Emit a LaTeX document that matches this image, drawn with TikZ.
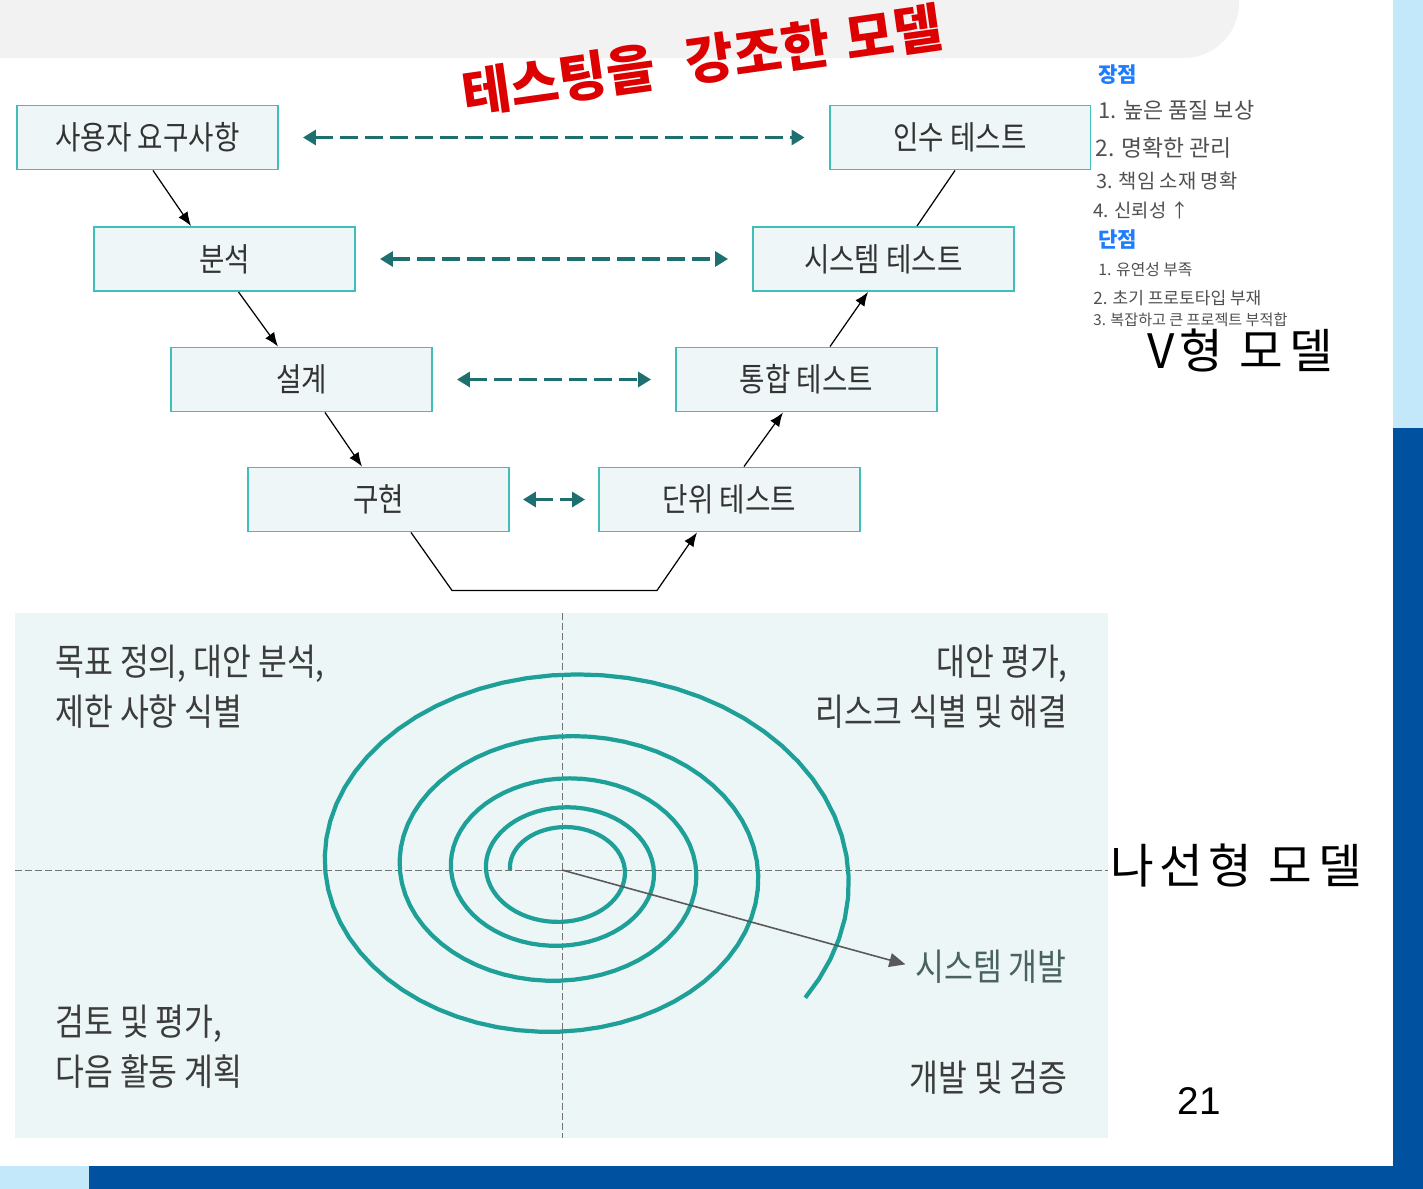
\documentclass[tikz,border=0pt]{standalone}
\usepackage{fontspec}
\setmainfont{Noto Sans CJK KR}
\newfontfamily\krnarrow[FakeStretch=0.85]{Noto Sans CJK KR}
\newfontfamily\krwide[LetterSpace=12]{Noto Sans CJK KR}
\newfontfamily\arialfont{Liberation Sans}
\usetikzlibrary{arrows.meta, positioning}

\definecolor{boxline}{RGB}{64,190,186}
\definecolor{boxfill}{RGB}{238,246,248}
\definecolor{linkteal}{RGB}{30,112,112}
\definecolor{spiralteal}{RGB}{30,160,152}
\definecolor{panelbg}{RGB}{237,246,246}
\definecolor{topgray}{RGB}{242,242,242}
\definecolor{lightblue}{RGB}{194,232,250}
\definecolor{darkblue}{RGB}{0,81,160}
\definecolor{pen}{RGB}{220,0,0}
\definecolor{notegray}{RGB}{80,80,80}
\definecolor{noteblue}{RGB}{30,125,255}
\definecolor{textgray}{RGB}{60,60,60}
\definecolor{devgray}{RGB}{75,98,98}

\begin{document}
\begin{tikzpicture}[
    x=0.02cm, y=-0.02cm,
    % Style definitions
    vbox/.style={rectangle, minimum width=5.22cm, minimum height=1.28cm, inner sep=0pt,
                 draw=boxline, line width=1.1pt, fill=boxfill, text=black!80,
                 font=\krnarrow\fontsize{18.5}{22}\selectfont},
    flow/.style={-{Latex[length=0.28cm, width=0.22cm]}, line width=0.7pt},
    link/.style={{Triangle[length=0.26cm, width=0.3cm]}-{Triangle[length=0.26cm, width=0.3cm]},
                 linkteal, line width=1.8pt, dash pattern=on 0.36cm off 0.14cm,
                 shorten <=0.48cm, shorten >=0.48cm},
    quad/.style={inner sep=0pt, text=textgray, font=\krnarrow\fontsize{21}{28.3}\selectfont},
    axis/.style={black!55, line width=0.5pt, dash pattern=on 0.14cm off 0.06cm},
    note/.style={anchor=west, inner sep=0pt, text=notegray},
    head/.style={anchor=west, inner sep=0pt, text=noteblue, font=\bfseries\fontsize{12}{14}\selectfont},
]
\useasboundingbox (0,0) rectangle (1423,1189);

% Slide background
\fill[white] (0,0) rectangle (1423,1189);
\fill[topgray, rounded corners=1.1cm] (-100,-100) rectangle (1239,58);
\fill[lightblue] (1393,0) rectangle (1423,428);
\fill[darkblue] (1393,428) rectangle (1423,1189);
\fill[lightblue] (0,1166) rectangle (89,1189);
\fill[darkblue] (89,1166) rectangle (1423,1189);

% V-model: development side
\node[vbox] (req) at (147.5,137.5) {사용자 요구사항};
\node[vbox] (anal) at (224.5,259) {분석};
\node[vbox] (des) at (301.5,379.5) {설계};
\node[vbox] (impl) at (378.5,499.5) {구현};

% V-model: test side
\node[vbox] (unit) at (729.5,499.5) {단위 테스트};
\node[vbox] (integ) at (806.5,379.5) {통합 테스트};
\node[vbox] (sys) at (883.5,259) {시스템 테스트};
\node[vbox] (acc) at (960,137.5) {인수 테스트};

% Arrows - down and up the V
\draw[flow] ([xshift=0.11cm]req.south) -- ([xshift=-0.67cm]anal.north);
\draw[flow] ([xshift=0.28cm]anal.south) -- ([xshift=-0.47cm]des.north);
\draw[flow] ([xshift=0.47cm]des.south) -- ([xshift=-0.33cm]impl.north);
\draw[flow] ([xshift=0.65cm]impl.south) -- ++(41,58) -- ++(205,0) -- ([xshift=-0.65cm]unit.south);
\draw[flow] ([xshift=0.29cm]unit.north) -- ([xshift=-0.47cm]integ.south);
\draw[flow] ([xshift=0.47cm]integ.north) -- ([xshift=-0.31cm]sys.south);
\draw[line width=0.7pt] ([xshift=0.67cm]sys.north) -- ([xshift=-0.1cm]acc.south);

% Arrows - verification links
\draw[link] (req) -- (acc);
\draw[link] (anal) -- (sys);
\draw[link] (des) -- (integ);
\draw[link, shorten <=0.26cm, shorten >=0.26cm] (impl) -- (unit);

% Handwritten memo
\node[rotate=8, text=pen, font=\bfseries\fontsize{30}{34}\selectfont] (memo) at (702,60)
    {테스팅을\hspace{0.6em}강조한\hspace{0.3em}모델};
\node[head] (pros) at (1098,75) {장점};
\node[note, font=\fontsize{12.5}{14}\selectfont] (p1) at (1098,110) {1. 높은 품질 보상};
\node[note, font=\fontsize{13}{15}\selectfont] (p2) at (1095,148) {2. 명확한 관리};
\node[note, font=\fontsize{11.3}{13}\selectfont] (p3) at (1096,181) {3. 책임 소재 명확};
\node[note, font=\fontsize{10.7}{12}\selectfont] (p4) at (1093,210) {4. 신뢰성 ↑};
\node[head] (cons) at (1098,240) {단점};
\node[note, font=\fontsize{9}{11}\selectfont] (c1) at (1098,270) {1. 유연성 부족};
\node[note, font=\fontsize{9.7}{11}\selectfont] (c2) at (1093,298) {2. 초기 프로토타입 부재};
\node[note, font=\fontsize{8.6}{10}\selectfont] (c3) at (1093,320) {3. 복잡하고 큰 프로젝트 부적합};
\node[font=\krwide\fontsize{27}{32}\selectfont] (vtitle) at (1240,350) {V형 모델};

% Spiral model panel
\fill[panelbg] (15,613) rectangle (1108,1138);
\coordinate (axL) at (15,870);
\coordinate (axR) at (1108,870);
\coordinate (axT) at (562,613);
\coordinate (axB) at (562,1138);
\coordinate (o) at (562,870);
\draw[axis] (axL) -- (axR);
\draw[axis] (axT) -- (axB);
\draw[spiralteal, line width=2.4pt] plot[domain=0:1655, samples=300, variable=\t]
    ({562+52*exp(0.00105*\t)*cos(180+\t)}, {870+0.75*52*exp(0.00105*\t)*sin(180+\t)});

\node[quad, anchor=west, text=devgray] (sysdev) at (915,967) {시스템 개발};
\draw[black!65, line width=0.9pt, -{Triangle[length=0.32cm, width=0.28cm]}, shorten >=0.2cm] (o) -- (sysdev.west);

\node[quad, anchor=north west, align=left] (plan) at (55,645) {목표 정의, 대안 분석,\\제한 사항 식별};
\node[quad, anchor=north east, align=right] (risk) at (1068,645) {대안 평가,\\리스크 식별 및 해결};
\node[quad, anchor=north west, align=left] (review) at (55,1005) {검토 및 평가,\\다음 활동 계획};
\node[quad, anchor=north east, align=right] (build) at (1068,1061) {개발 및 검증};

\node[anchor=west, inner sep=0pt, font=\krwide\fontsize{27}{32}\selectfont] (stitle) at (1110,866) {나선형 모델};
\node[font=\arialfont\fontsize{22}{26}\selectfont] (page) at (1199,1101) {21};

\end{tikzpicture}
\end{document}
